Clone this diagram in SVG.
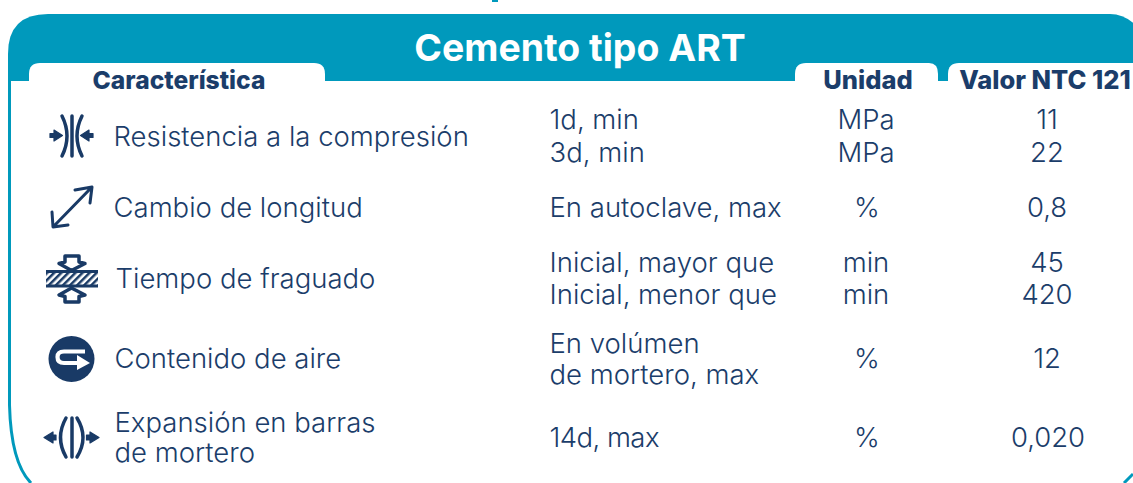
<svg xmlns="http://www.w3.org/2000/svg" width="1133" height="483" viewBox="0 0 1133 483">
<style>
text{font-family:"Inter","Noto Sans","Liberation Sans",sans-serif;fill:#1b3d6a;font-size:27.500px;font-weight:300}
.b{font-weight:800}
.m{text-anchor:middle}
.s{fill:none;stroke:#193a66;stroke-linecap:round;stroke-linejoin:round}
.f{fill:#193a66;stroke:#193a66;stroke-width:1.200;stroke-linejoin:round}
</style>
<defs>
<pattern id="hatch" width="5" height="5" patternUnits="userSpaceOnUse" patternTransform="rotate(45)"><rect width="5" height="5" fill="#fff"/><rect width="2.500" height="5" fill="#193a66"/></pattern>
</defs>
<rect width="1133" height="483" fill="#fff"/>
<g id="frame">
<path d="M8 81V54Q8 14 48 14H1110Q1127 14 1140 30V81Z" fill="#0099bc"/>
<path d="M9.500 80V405Q11 463 31 483M1124 483L1133 474" fill="none" stroke="#0099bc" stroke-width="3"/>
<path d="M29 81V74Q29 63 40 63H314Q325 63 325 74V81Z" fill="#fff"/>
<path d="M795 81V74Q795 63 806 63H929Q938 63 938 74V81Z" fill="#fff"/>
<path d="M948 81V74Q948 63 959 63H1133V81Z" fill="#fff"/>
<path d="M492 0H498V2H492Z" fill="#0099bc"/>
<text x="580" y="61" class="m" style="font-size:37.400px;font-weight:700;fill:#fff">Cemento tipo ART</text>
</g>
<g id="header-caracteristica"><text x="179" y="89" class="b m" style="font-size:24.600px">Característica</text></g>
<g id="header-unidad"><text x="868" y="89" class="b m" style="font-size:25.500px">Unidad</text></g>
<g id="header-valor"><text x="1045" y="89" class="b m" style="font-size:25.500px">Valor NTC 121</text></g>
<g id="row-resistencia">
<path class="s" stroke-width="3.500" d="M72 116V156M62 116Q72 136 62 156M82 116Q72 136 82 156"/>
<path class="f" d="M50 133.500H54V130L62.500 135.500 54 141V137.500H50Z"/>
<path class="f" d="M93 133.500H89V130L80.500 135.500 89 141V137.500H93Z"/>
<text x="113.500" y="146">Resistencia a la compresión</text>
<text x="549.500" y="129">1d, min</text><text x="549.500" y="162">3d, min</text>
<text x="866" y="129" class="m">MPa</text><text x="866" y="162" class="m">MPa</text>
<text x="1047" y="129" class="m">11</text><text x="1047" y="162" class="m">22</text>
</g>
<g id="row-longitud">
<path class="s" stroke-width="3" d="M54 226L91 188M75 190L92 187 90 203M52 212L53 227 68 225"/>
<text x="113.500" y="217">Cambio de longitud</text>
<text x="549.500" y="217">En autoclave, max</text>
<text x="867" y="217" class="m">%</text>
<text x="1047" y="217" class="m">0,8</text>
</g>
<g id="row-fraguado">
<rect x="46" y="271" width="52" height="15" fill="url(#hatch)"/>
<path d="M46 271.500H98M46 286H98" stroke="#193a66" stroke-width="3"/>
<path class="s" stroke-width="3.500" d="M71.500 270.500L59 263.500 65 262V256H79V262L85 263.500Z"/>
<path class="s" stroke-width="3.500" d="M71.500 288L59 295 65 296.500V302H79V296.500L85 295Z"/>
<text x="115.500" y="288">Tiempo de fraguado</text>
<text x="549.500" y="272">Inicial, mayor que</text><text x="549.500" y="304">Inicial, menor que</text>
<text x="866" y="272" class="m">min</text><text x="866" y="304" class="m">min</text>
<text x="1047" y="272" class="m">45</text><text x="1047" y="304" class="m">420</text>
</g>
<g id="row-aire">
<circle cx="71.500" cy="359" r="23" fill="#193a66"/>
<path d="M85 351.500H64Q57.500 351.500 57.500 357 57.500 363 64 363H80" fill="none" stroke="#fff" stroke-width="4.200"/>
<path d="M77 355L90 363 77 370Z" fill="#fff"/>
<text x="114.500" y="368">Contenido de aire</text>
<text x="549.500" y="353">En volúmen</text><text x="549.500" y="384">de mortero, max</text>
<text x="867" y="368" class="m">%</text>
<text x="1047" y="368" class="m">12</text>
</g>
<g id="row-expansion">
<path class="s" stroke-width="3.500" d="M72 418V457M66 418Q55 437.500 66 457M77 418Q89 437.500 77 457"/>
<path class="f" d="M44 437.500L53 432V435H56V440H53V443Z"/>
<path class="f" d="M99 437.500L90 432V435H86.500V440H90V443Z"/>
<text x="114.500" y="432">Expansión en barras</text><text x="114.500" y="462">de mortero</text>
<text x="549.500" y="447" textLength="110">14d, max</text>
<text x="867" y="447" class="m">%</text>
<text x="1048" y="447" class="m">0,020</text>
</g>
</svg>
